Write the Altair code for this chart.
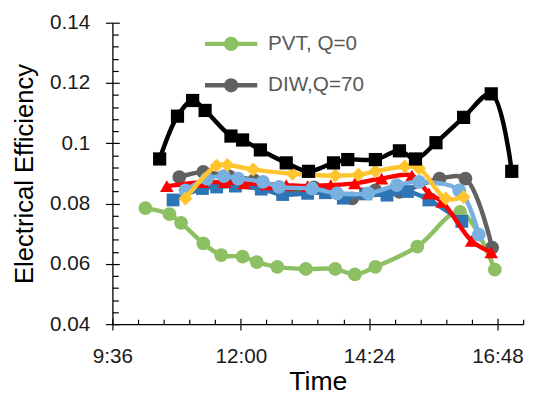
import altair as alt
import pandas as pd

# ---------------- data ----------------
series_names = ["PVT, Q=0", "DIW,Q=70", "Series 3", "Series 4", "Series 5", "Series 6", "Series 7"]
series_colors = ["#8CC063", "#616161", "#2E75B6", "#FF0000", "#78B0E0", "#FFC42E", "#000000"]
series_shapes = ["circle", "circle", "square", "triangle-up", "circle", "diamond", "square"]
series_sizes = [196, 196, 169, 190, 196, 200, 180]

green_time = ["10:13", "10:40", "10:53", "11:18", "11:38", "12:02", "12:18", "12:41", "13:13",
              "13:46", "14:08", "14:31", "15:18", "16:06", "16:45"]
green_eff = [0.0785, 0.0765, 0.0736, 0.0668, 0.0629, 0.0624, 0.0606, 0.0590, 0.0583,
             0.0583, 0.0565, 0.0590, 0.0657, 0.0772, 0.0581]

gray_time = ["10:51", "11:18", "11:47", "12:15", "12:47", "13:22", "14:05", "14:31", "14:58",
             "15:43", "16:12", "16:42"]
gray_eff = [0.0888, 0.0905, 0.0890, 0.0877, 0.0834, 0.0854, 0.0817, 0.0844, 0.0839,
            0.0883, 0.0883, 0.0654]

blue_time = ["10:44", "11:17", "11:33", "11:54", "12:23", "12:47", "13:15", "13:35", "13:55",
             "14:20", "14:44", "15:07", "15:31", "16:08"]
blue_eff = [0.0812, 0.0850, 0.0855, 0.0858, 0.0848, 0.0830, 0.0834, 0.0836, 0.0818,
            0.0832, 0.0828, 0.0840, 0.0812, 0.0741]

red_time = ["10:37", "11:17", "11:42", "12:04", "12:29", "12:51", "13:15", "13:41", "14:08",
            "14:38", "15:12", "15:31", "15:46", "16:19", "16:41"]
red_eff = [0.0858, 0.0871, 0.0871, 0.0867, 0.0864, 0.0861, 0.0858, 0.0861, 0.0867,
           0.0883, 0.0893, 0.0834, 0.0806, 0.0676, 0.0638]

lightblue_time = ["10:58", "11:22", "11:41", "11:57", "12:25", "12:43", "13:20", "13:48", "14:23",
                  "14:55", "15:20", "16:05", "16:27"]
lightblue_eff = [0.0844, 0.0883, 0.0891, 0.0883, 0.0872, 0.0855, 0.0850, 0.0834, 0.0834,
                 0.0861, 0.0872, 0.0844, 0.0697]

gold_time = ["10:58", "11:33", "11:45", "12:14", "12:58", "13:46", "14:12", "14:31", "15:04",
             "15:20", "15:50", "16:10"]
gold_eff = [0.0817, 0.0926, 0.0928, 0.0913, 0.0899, 0.0893, 0.0896, 0.0907, 0.0923,
            0.0917, 0.0817, 0.0822]

black_time = ["10:29", "10:49", "11:06", "11:20", "11:49", "12:02", "12:22", "12:51", "13:16",
              "13:44", "14:00", "14:31", "14:58", "15:16", "15:39", "16:10", "16:41", "17:04"]
black_eff = [0.0948, 0.1090, 0.1142, 0.1109, 0.1024, 0.1011, 0.0978, 0.0935, 0.0907,
             0.0935, 0.0946, 0.0946, 0.0975, 0.0948, 0.1002, 0.1086, 0.1164, 0.0907]

series_times = [green_time, gray_time, blue_time, red_time, lightblue_time, gold_time, black_time]
series_effs = [green_eff, gray_eff, blue_eff, red_eff, lightblue_eff, gold_eff, black_eff]

x_tick_hours = [9.6, 12.0, 14.4, 16.8]
x_tick_labels = ["9:36", "12:00", "14:24", "16:48"]
x_domain = [9.6, 17.28]
x_minor_step = 0.48

y_tick_values = [0.04, 0.06, 0.08, 0.10, 0.12, 0.14]
y_tick_labels = ["0.04", "0.06", "0.08", "0.1", "0.12", "0.14"]
y_domain = [0.04, 0.14]
y_minor_step = 0.004

legend_entries = ["PVT, Q=0", "DIW,Q=70"]

# ---------------- build table ----------------
def to_hours(s):
    h, m = s.split(":")
    return int(h) + int(m) / 60.0

frames = []
for name, times, effs in zip(series_names, series_times, series_effs):
    frames.append(pd.DataFrame({
        "series": name,
        "hours": [to_hours(t) for t in times],
        "eff": effs,
        "idx": list(range(len(times))),
    }))
df = pd.concat(frames, ignore_index=True)

def label_expr(values, labels, tol):
    expr = "''"
    for v, lab in reversed(list(zip(values, labels))):
        expr = f"abs(datum.value - {v}) < {tol} ? '{lab}' : ({expr})"
    return expr

def minor_values(lo, hi, step, majors):
    out = []
    n = int(round((hi - lo) / step))
    for i in range(n + 1):
        v = round(lo + i * step, 6)
        if all(abs(v - m) > step / 10 for m in majors):
            out.append(v)
    return out

x_minor = minor_values(x_domain[0], x_domain[1], x_minor_step, x_tick_hours)
y_minor = minor_values(y_domain[0], y_domain[1], y_minor_step, y_tick_values)

FONT = "Liberation Sans"
x_scale = alt.Scale(domain=x_domain, nice=False, zero=False)
y_scale = alt.Scale(domain=y_domain, nice=False, zero=False)
color_scale = alt.Scale(domain=series_names, range=series_colors)

x_axis_main = alt.Axis(
    orient="bottom", values=x_tick_hours, labelExpr=label_expr(x_tick_hours, x_tick_labels, 0.01),
    ticks=False, grid=False, domainColor="#000000", domainWidth=1.3,
    labelFont=FONT, labelFontSize=21, labelColor="#1a1a1a", labelPadding=22,
    labelFlush=False, labelOverlap=False,
    title="Time", titleFont=FONT, titleFontSize=27, titleFontWeight="normal",
    titleColor="#000000", titlePadding=2,
)
y_axis_main = alt.Axis(
    orient="left", values=y_tick_values, labelExpr=label_expr(y_tick_values, y_tick_labels, 0.0001),
    ticks=False, grid=False, domainColor="#000000", domainWidth=1.3,
    labelFont=FONT, labelFontSize=21, labelColor="#1a1a1a", labelPadding=23,
    labelFlush=False, labelOverlap=False,
    title="Electrical Efficiency", titleFont=FONT, titleFontSize=26, titleFontWeight="normal",
    titleColor="#000000", titlePadding=12,
)

# legend symbol: a line through a filled circle (two rings + a stroke)
legend_path = ("M-3.79,0L3.79,0"
               "M0.714,0A0.714,0.714,0,1,1,-0.714,0A0.714,0.714,0,1,1,0.714,0"
               "M0.357,0A0.357,0.357,0,1,1,-0.357,0A0.357,0.357,0,1,1,0.357,0")
legend = alt.Legend(
    values=legend_entries, orient="none", legendX=110, legendY=11,
    symbolType=legend_path, symbolSize=196, symbolStrokeWidth=4.5, symbolOpacity=1,
    labelFont=FONT, labelFontSize=21, labelColor="#595959", labelOffset=27,
    rowPadding=13, padding=0, title=None,
)

layers = []
for name, color, shape, size in zip(series_names, series_colors, series_shapes, series_sizes):
    base = alt.Chart(df[df["series"] == name])
    line = base.mark_line(strokeWidth=4.5, interpolate="catmull-rom").encode(
        x=alt.X("hours:Q", scale=x_scale, axis=x_axis_main),
        y=alt.Y("eff:Q", scale=y_scale, axis=y_axis_main),
        color=alt.Color("series:N", scale=color_scale, legend=legend),
        order="idx:Q",
    )
    pts = base.mark_point(filled=True, shape=shape, size=size, color=color, opacity=1).encode(
        x=alt.X("hours:Q", scale=x_scale, axis=x_axis_main),
        y=alt.Y("eff:Q", scale=y_scale, axis=y_axis_main),
    )
    layers += [line, pts]

data_layer = alt.layer(*layers)

ghost = alt.Chart(df).mark_point(opacity=0)
major_ticks = ghost.encode(
    x=alt.X("hours:Q", scale=x_scale, axis=alt.Axis(
        orient="bottom", values=x_tick_hours, offset=-6, tickSize=12, tickColor="#000000",
        tickWidth=1.2, domain=False, labels=False, grid=False, title="")),
    y=alt.Y("eff:Q", scale=y_scale, axis=alt.Axis(
        orient="left", values=y_tick_values, offset=-7, tickSize=14, tickColor="#000000",
        tickWidth=1.2, domain=False, labels=False, grid=False, title="")),
)
minor_ticks = ghost.encode(
    x=alt.X("hours:Q", scale=x_scale, axis=alt.Axis(
        orient="bottom", values=x_minor, offset=-5, tickSize=5, tickColor="#000000",
        tickWidth=1.2, domain=False, labels=False, grid=False, title="")),
    y=alt.Y("eff:Q", scale=y_scale, axis=alt.Axis(
        orient="left", values=y_minor, offset=-6, tickSize=6, tickColor="#000000",
        tickWidth=1.2, domain=False, labels=False, grid=False, title="")),
)

chart = alt.layer(data_layer, major_ticks, minor_ticks).resolve_axis(
    x="independent", y="independent"
).properties(
    width=417, height=306,
    padding={"left": 106, "top": 12, "right": 11, "bottom": 70},
    autosize=alt.AutoSizeParams(type="none"),
    background="white",
).configure_view(strokeWidth=0)

chart.save("out.html", embed_options={"renderer": "svg", "actions": False})
